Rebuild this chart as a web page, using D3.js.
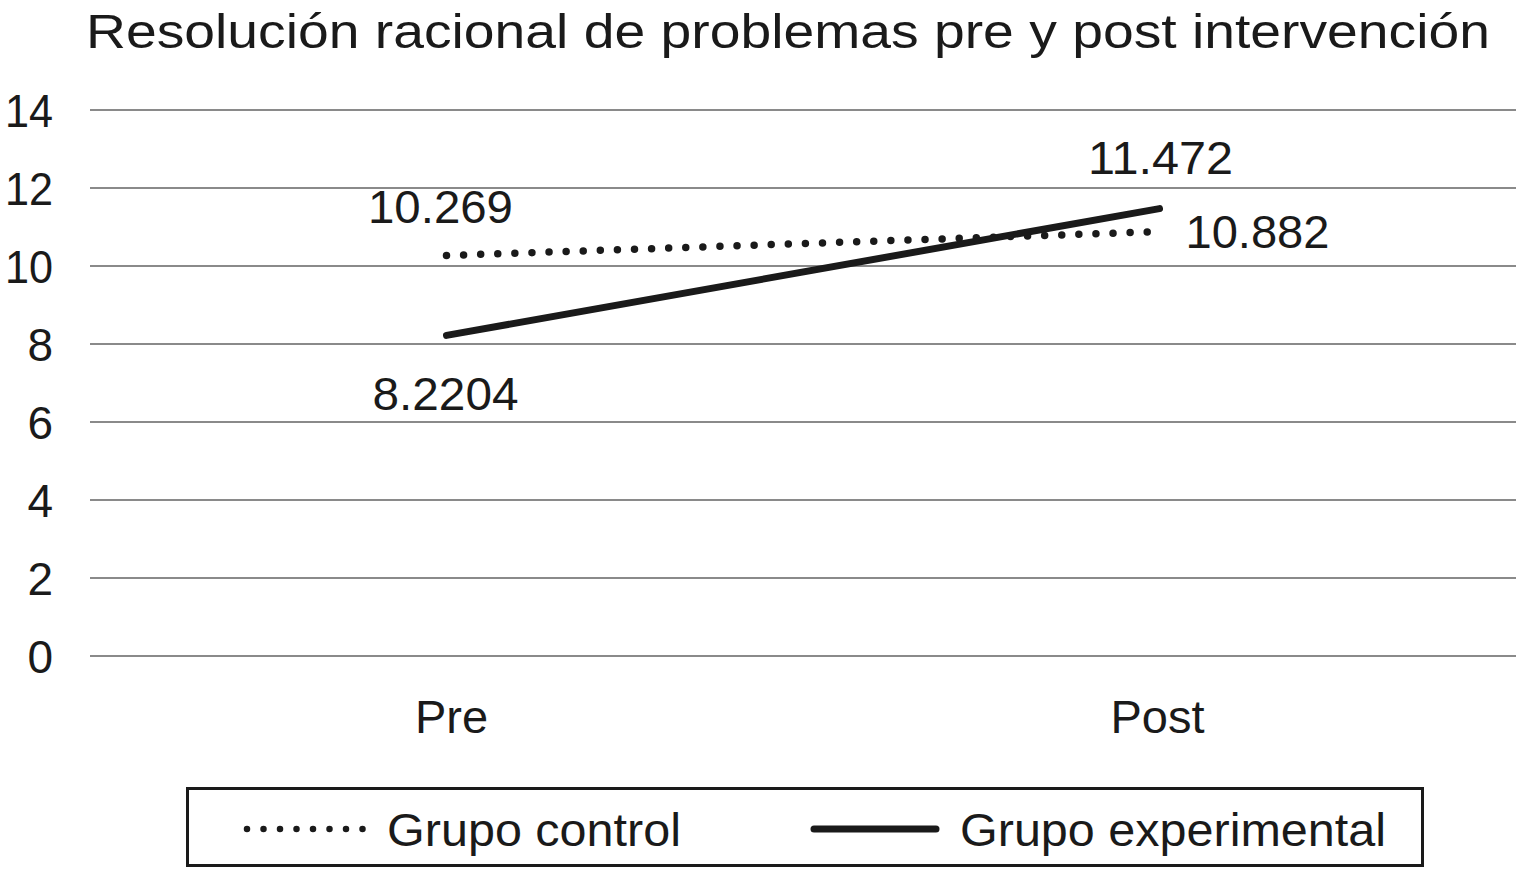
<!DOCTYPE html>
<html><head><meta charset="utf-8">
<script src="https://cdn.jsdelivr.net/npm/d3@7"></script>
<style>body{margin:0;background:#fff}svg{display:block}text{font-family:"Liberation Sans",Arial,sans-serif;fill:#1a1a1a}</style>
</head><body>
<svg id="c" width="1517" height="869"></svg>
<script>
const title = "Resolución racional de problemas pre y post intervención";
const categories = ["Pre", "Post"];
const controlValues = [10.269, 10.882];
const experimentalValues = [8.2204, 11.472];
const controlLabels = ["10.269", "10.882"];
const experimentalLabels = ["8.2204", "11.472"];
const yTicks = [0, 2, 4, 6, 8, 10, 12, 14];
const seriesNames = ["Grupo control", "Grupo experimental"];

const svg = d3.select("#c");
const x = d3.scaleBand().domain(categories).range([90, 1516]).padding(0);
const y = d3.scaleLinear().domain([0, 14]).range([656, 110]);
const cx = c => x(c) + x.bandwidth() / 2;

// title
svg.append("text").attr("x", 788).attr("y", 48).attr("text-anchor", "middle")
  .attr("font-size", 49).attr("textLength", 1404).attr("lengthAdjust", "spacingAndGlyphs").text(title);

// grid
svg.append("g").selectAll("line").data(yTicks).join("line")
  .attr("x1", 90).attr("x2", 1516).attr("y1", d => y(d)).attr("y2", d => y(d))
  .attr("stroke", "#8a8a8a").attr("stroke-width", 2);

// y axis labels
svg.append("g").selectAll("text").data(yTicks).join("text")
  .attr("x", 53).attr("y", d => y(d) + 17).attr("text-anchor", "end")
  .attr("font-size", 46).text(d => d)
  .each(function(d) { if (String(d).length > 1) d3.select(this).attr("textLength", 48).attr("lengthAdjust", "spacingAndGlyphs"); });

// x labels
const xOff = [5, -2];
svg.append("g").selectAll("text").data(categories).join("text")
  .attr("x", (d, i) => cx(d) + xOff[i]).attr("y", 733).attr("text-anchor", "middle")
  .attr("font-size", 47).text(d => d);

const line = d3.line().x((d, i) => cx(categories[i])).y(d => y(d));

// experimental (solid)
svg.append("path").datum(experimentalValues).attr("d", line)
  .attr("fill", "none").attr("stroke", "#1a1a1a").attr("stroke-width", 7).attr("stroke-linecap", "round");

// control (dotted)
svg.append("path").datum(controlValues).attr("d", line)
  .attr("fill", "none").attr("stroke", "#1a1a1a").attr("stroke-width", 7.5)
  .attr("stroke-linecap", "round").attr("stroke-dasharray", "0 17.1");

// data labels
const lbl = (t, px, py, anchor, w) => svg.append("text").attr("x", px).attr("y", py)
  .attr("text-anchor", anchor).attr("font-size", 47)
  .attr("textLength", w).attr("lengthAdjust", "spacingAndGlyphs").text(t);
lbl(controlLabels[0], cx("Pre") - 6, y(controlValues[0]) - 33, "middle", 145);
lbl(experimentalLabels[0], cx("Pre") - 1, y(experimentalValues[0]) + 75, "middle", 146);
lbl(experimentalLabels[1], cx("Post") + 1, y(experimentalValues[1]) - 35, "middle", 145);
lbl(controlLabels[1], cx("Post") + 26, y(controlValues[1]) + 16, "start", 144);

// legend
svg.append("rect").attr("x", 187.5).attr("y", 788.5).attr("width", 1235).attr("height", 77)
  .attr("fill", "none").attr("stroke", "#1a1a1a").attr("stroke-width", 3);
svg.append("line").attr("x1", 247).attr("x2", 364).attr("y1", 829).attr("y2", 829)
  .attr("stroke", "#1a1a1a").attr("stroke-width", 6.5).attr("stroke-linecap", "round").attr("stroke-dasharray", "0 16.5");
svg.append("text").attr("x", 387).attr("y", 846).attr("font-size", 47)
  .attr("textLength", 294).attr("lengthAdjust", "spacingAndGlyphs").text(seriesNames[0]);
svg.append("line").attr("x1", 814).attr("x2", 936).attr("y1", 829).attr("y2", 829)
  .attr("stroke", "#1a1a1a").attr("stroke-width", 7).attr("stroke-linecap", "round");
svg.append("text").attr("x", 960).attr("y", 846).attr("font-size", 47)
  .attr("textLength", 426).attr("lengthAdjust", "spacingAndGlyphs").text(seriesNames[1]);
</script>
</body></html>
